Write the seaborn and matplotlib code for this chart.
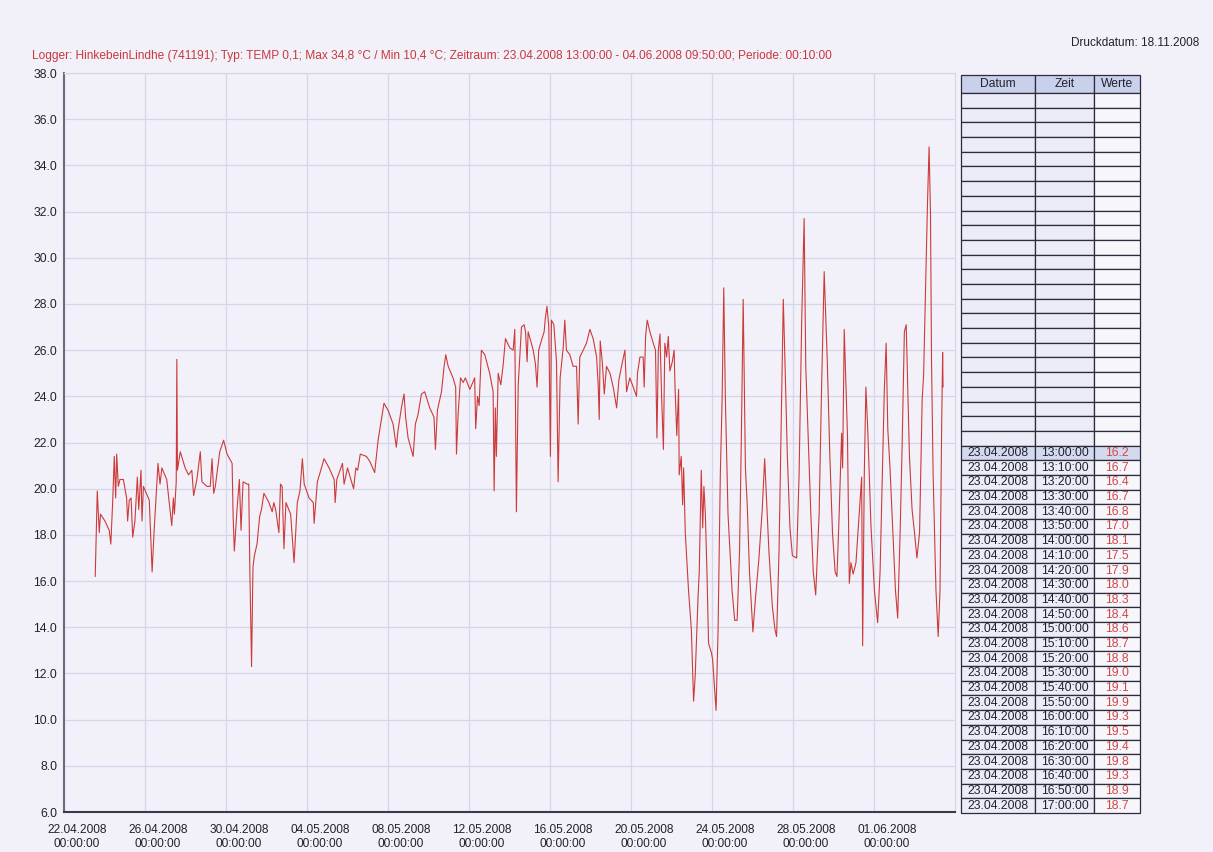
import matplotlib
matplotlib.use("Agg")
import matplotlib.pyplot as plt
import matplotlib.dates as mdates
from matplotlib.ticker import FormatStrFormatter
from matplotlib.transforms import ScaledTranslation
import pandas as pd
import seaborn as sns

days = [
    1.54, 1.64, 1.74, 1.80, 2.02, 2.23, 2.31, 2.40, 2.48, 2.55, 2.60, 2.68, 2.76, 2.93,
    3.09, 3.14, 3.22, 3.31, 3.39, 3.50, 3.62, 3.69, 3.80, 3.85, 3.92, 4.21, 4.35, 4.45,
    4.58, 4.64, 4.74, 4.83, 5.07, 5.32, 5.40, 5.45, 5.54, 5.57, 5.60, 5.74, 5.98, 6.15,
    6.31, 6.40, 6.56, 6.73, 6.81, 7.06, 7.22, 7.31, 7.39, 7.47, 7.69, 7.88, 8.05, 8.30,
    8.35, 8.41, 8.55, 8.66, 8.74, 8.84, 9.04, 9.12, 9.17, 9.26, 9.33, 9.40, 9.53, 9.66,
    9.75, 9.87, 10.12, 10.28, 10.36, 10.45, 10.61, 10.69, 10.77, 10.86, 10.96, 11.19,
    11.36, 11.52, 11.65, 11.77, 11.86, 12.10, 12.31, 12.35, 12.51, 12.68, 12.84, 13.09,
    13.34, 13.39, 13.47, 13.75, 13.83, 14.00, 14.30, 14.41, 14.50, 14.63,
    14.93, 15.09, 15.34, 15.51, 15.80, 16.00, 16.25, 16.41, 16.49, 16.66, 16.79, 16.87,
    16.99, 17.24, 17.35, 17.48, 17.65, 17.81, 18.06, 18.27, 18.34, 18.44, 18.64, 18.77,
    18.85, 18.97, 19.21, 19.34, 19.38, 19.46, 19.58, 19.71, 19.82, 20.04, 20.28, 20.33,
    20.42, 20.50, 20.61, 20.78, 21.02, 21.19, 21.24, 21.30, 21.35, 21.44, 21.57, 21.69,
    21.80, 22.01, 22.18, 22.26, 22.34, 22.43, 22.59, 22.72, 22.79, 22.87, 22.92, 23.17,
    23.28, 23.36, 23.44, 23.57, 23.71, 23.77, 23.85, 23.94, 24.02, 24.07, 24.19, 24.32,
    24.40, 24.50, 24.65, 24.73, 24.81, 24.98, 25.14, 25.31, 25.39, 25.47, 25.64, 25.80,
    25.97, 26.13, 26.30, 26.38, 26.43, 26.48, 26.58, 26.68, 26.79, 26.96, 27.12, 27.29,
    27.40, 27.53, 27.70, 27.78, 27.94, 28.11, 28.27, 28.32, 28.44, 28.60, 28.65, 28.72,
    28.80, 28.93, 29.10, 29.21, 29.28, 29.35, 29.43, 29.51, 29.60, 29.67, 29.76, 29.84,
    29.92, 30.04, 30.13, 30.17,
    30.26, 30.35, 30.38, 30.48, 30.55, 30.60, 30.68, 30.84, 30.98, 31.09, 31.17, 31.31,
    31.37, 31.47, 31.54, 31.60, 31.67, 31.75, 31.83, 31.97, 32.03, 32.20, 32.30, 32.41,
    32.50, 32.58, 32.66, 32.79, 32.99, 33.12, 33.24, 33.36, 33.45, 33.54, 33.65, 33.74,
    33.85, 34.02, 34.15, 34.31, 34.48, 34.60, 34.68, 34.81, 34.98, 35.11, 35.19, 35.31,
    35.44, 35.52, 35.60, 35.72, 35.85, 35.97, 36.18, 36.30, 36.43, 36.55, 36.63, 36.76,
    36.88, 37.00, 37.12, 37.29, 37.40, 37.45, 37.54, 37.62, 37.69, 37.82, 37.95, 38.08,
    38.17, 38.28, 38.40, 38.45, 38.53, 38.62, 38.69, 38.78, 38.86, 38.97, 39.11, 39.27,
    39.39, 39.44, 39.52, 39.60, 39.69, 39.85, 40.02, 40.18, 40.30, 40.43, 40.51, 40.60,
    40.68, 40.79, 40.93, 41.06, 41.17, 41.29, 41.39, 41.50, 41.59, 41.67, 41.75, 41.88,
    42.00, 42.12, 42.25, 42.38, 42.45, 42.55, 42.64, 42.72, 42.79, 42.84, 42.92, 43.06,
    43.17, 43.26, 43.34, 43.39, 43.41,
]
temps = [
    16.2, 19.9, 18.1, 18.9, 18.6, 18.2, 17.6, 19.4, 21.4, 19.6, 21.5, 20.1, 20.4, 20.4,
    19.6, 18.6, 19.5, 19.6, 17.9, 18.6, 20.5, 19.1, 20.8, 18.6, 20.1, 19.5, 16.4, 18.2,
    20.2, 21.1, 20.2, 20.9, 20.4, 18.4, 19.6, 18.9, 20.3, 25.6, 20.8, 21.6, 20.9, 20.6,
    20.8, 19.7, 20.4, 21.6, 20.3, 20.1, 20.1, 21.3, 19.8, 20.1, 21.6, 22.1, 21.5, 21.1,
    18.8, 17.3, 19.2, 20.4, 18.2, 20.3, 20.2, 20.2, 16.8, 12.3, 16.6, 17.1, 17.6, 18.8,
    19.1, 19.8, 19.4, 19.0, 19.4, 19.1, 18.1, 20.2, 20.1, 17.4, 19.4, 18.9,
    16.8, 19.4, 19.9, 21.3, 20.2, 19.6, 19.4, 18.5, 20.3, 20.8, 21.3, 20.9,
    20.4, 19.4, 20.4, 21.1, 20.2, 20.9, 20.0, 20.9, 20.8, 21.5,
    21.4, 21.2, 20.7, 22.1, 23.7, 23.4, 22.8, 21.8, 22.5, 23.5, 24.1, 23.1,
    22.2, 21.4, 22.8, 23.2, 24.1, 24.2, 23.5, 23.1, 21.7, 23.4, 24.2, 25.3,
    25.8, 25.3, 24.8, 24.4, 21.5, 23.2, 24.8, 24.6, 24.8, 24.3, 24.8, 22.6,
    24.0, 23.6, 26.0, 25.8, 25.0, 24.2, 19.9, 23.5, 21.4, 25.0, 24.5, 25.4,
    26.5, 26.1, 26.0, 26.9, 19.0, 24.5, 27.0, 27.1, 26.8, 25.5, 26.8, 26.0,
    25.4, 24.4, 26.0, 26.4, 26.8, 27.4, 27.9, 27.0, 21.4, 27.3, 27.1, 25.5,
    20.3, 24.8, 26.1, 27.3, 26.0, 25.8, 25.3, 25.3, 22.8, 25.7, 26.0, 26.3,
    26.9, 26.5, 25.7, 24.5, 23.0, 26.4, 25.5, 24.1, 25.3, 25.0, 24.4, 23.5,
    24.7, 25.3, 26.0, 24.2, 24.8, 24.4, 24.0, 25.0, 25.7, 25.7, 24.4, 26.6,
    27.3, 26.8, 26.3, 26.0, 22.2, 26.0, 26.7, 24.0, 21.7, 26.3, 25.7, 26.6,
    25.1, 25.5, 26.0, 24.5,
    22.3, 24.3, 20.6, 21.4, 19.3, 20.9, 18.1, 15.6, 13.9, 10.8, 11.9, 15.3,
    16.4, 20.8, 18.3, 20.1, 18.9, 16.4, 13.3, 12.9, 12.6, 10.4, 13.9, 20.6,
    23.9, 28.7, 23.9, 18.9, 15.6, 14.3, 14.3, 17.3, 22.3, 28.2, 20.9, 19.3,
    16.4, 13.8, 15.3, 16.9, 19.1, 21.3, 19.8, 17.3, 14.9, 13.9, 13.6, 17.3,
    23.9, 28.2, 25.6, 21.4, 18.3, 17.1, 17.0, 20.6, 27.3, 31.7, 25.3, 21.9,
    18.9, 16.4, 15.4, 18.9, 23.9, 25.9, 29.4, 27.3, 25.6, 21.4, 18.1, 16.4,
    16.2, 18.9, 22.4, 20.9, 26.9, 24.3, 22.3, 15.9, 16.8, 16.3, 16.8, 18.9,
    20.5, 13.2, 20.6, 24.4, 22.6, 18.4, 15.6, 14.2, 16.4, 21.4, 24.3, 26.3,
    22.6, 20.9, 18.1, 15.6, 14.4, 18.1, 21.9, 26.8, 27.1, 24.3, 21.4, 19.1,
    18.1, 17.0, 18.1, 23.9, 24.9, 28.9, 32.3, 34.8, 31.9, 25.6, 20.6, 15.6,
    13.6, 15.6, 22.6, 25.9, 24.4,
]

# Tabelle rechts
tab_header = ['Datum', 'Zeit', 'Werte']
tab_dates = ['23.04.2008'] * 25
tab_times = ['13:00:00', '13:10:00', '13:20:00', '13:30:00', '13:40:00', '13:50:00',
             '14:00:00', '14:10:00', '14:20:00', '14:30:00', '14:40:00', '14:50:00',
             '15:00:00', '15:10:00', '15:20:00', '15:30:00', '15:40:00', '15:50:00',
             '16:00:00', '16:10:00', '16:20:00', '16:30:00', '16:40:00', '16:50:00',
             '17:00:00']
tab_values = [16.2, 16.7, 16.4, 16.7, 16.8, 17.0, 18.1, 17.5, 17.9, 18.0, 18.3, 18.4,
              18.6, 18.7, 18.8, 19.0, 19.1, 19.9, 19.3, 19.5, 19.4, 19.8, 19.3, 18.9, 18.7]
n_empty = 24

title_text = ("Logger: HinkebeinLindhe (741191); Typ: TEMP 0,1; Max 34,8 °C / Min 10,4 °C; "
              "Zeitraum: 23.04.2008 13:00:00 - 04.06.2008 09:50:00; Periode: 00:10:00")
print_date = "Druckdatum: 18.11.2008"

# Farben
paper = '#f2f1f9'
grid_col = '#d6d6ea'
red = '#cc3a3a'
ink = '#22222c'

sns.set_style("whitegrid")
plt.rcParams['font.family'] = ['Liberation Sans', 'DejaVu Sans']

start = pd.Timestamp('2008-04-22')
df = pd.DataFrame({'zeit': start + pd.to_timedelta(days, unit='D'), 'temp': temps})

fig = plt.figure(figsize=(12.13, 8.52), dpi=100, facecolor=paper)
ax = fig.add_axes([0.0528, 0.0469, 0.7345, 0.8674])
ax.set_facecolor(paper)

sns.lineplot(data=df, x='zeit', y='temp', color=red, linewidth=0.8, ax=ax)

ax.set_ylim(6, 38)
ax.set_yticks(range(6, 39, 2))
ax.yaxis.set_major_formatter(FormatStrFormatter('%.1f'))
ax.set_xlim(start, start + pd.Timedelta(days=44))
ax.set_xticks(pd.date_range(start, periods=11, freq='4D'))
ax.xaxis.set_major_formatter(mdates.DateFormatter('%d.%m.%Y\n%H:%M:%S'))
ax.set_xlabel('')
ax.set_ylabel('')

ax.grid(True, color=grid_col, linewidth=0.9)
ax.spines['left'].set_color('#6a6a82')
ax.spines['left'].set_linewidth(1.5)
ax.spines['bottom'].set_color('#3a3a4a')
ax.spines['bottom'].set_linewidth(1.5)
for side in ['top', 'right']:
    ax.spines[side].set_color(grid_col)
    ax.spines[side].set_linewidth(0.9)
ax.tick_params(axis='both', which='major', length=3.5, width=0.9, color='#6a6a82',
               labelcolor=ink)
ax.tick_params(axis='y', labelsize=8.8, pad=1.5)
ax.tick_params(axis='x', labelsize=8.6, pad=5)

# Datumsbeschriftung leicht nach rechts versetzt wie im Ausdruck
shift = ScaledTranslation(0.13, 0, fig.dpi_scale_trans)
for lbl in ax.get_xticklabels():
    lbl.set_transform(lbl.get_transform() + shift)
    lbl.set_linespacing(1.25)

fig.text(0.0264, 0.934, title_text, color='#c8383c', fontsize=8.6, ha='left', va='center')
fig.text(0.989, 0.949, print_date, color=ink, fontsize=8.5, ha='right', va='center')

# Tabelle
tax = fig.add_axes([0.7923, 0.0458, 0.1476, 0.8662])
tax.axis('off')
cell_text = [['', '', ''] for _ in range(n_empty)]
for d, t, v in zip(tab_dates, tab_times, tab_values):
    cell_text.append([d, t, f'{v:.1f}'])
tbl = tax.table(cellText=cell_text, colLabels=tab_header, cellLoc='center',
                colWidths=[0.413, 0.330, 0.257], bbox=[0, 0, 1, 1])
tbl.auto_set_font_size(False)
tbl.set_fontsize(8.7)
for (r, c), cell in tbl.get_celld().items():
    cell.set_edgecolor('#2c2c3c')
    cell.set_linewidth(0.9)
    cell.set_height(18 if r == 0 else 14.7)
    cell.PAD = 0.02
    if r == 0:
        cell.set_facecolor('#c9d0ec')
    elif r == n_empty + 1:
        cell.set_facecolor('#d3daf0')
    else:
        cell.set_facecolor('#ececf7' if c < 2 else '#f6f6fb')
    if r > 0 and c == 2:
        cell.get_text().set_color('#d04848')
    else:
        cell.get_text().set_color(ink)

fig.savefig('out.png', dpi=100, facecolor=paper)
